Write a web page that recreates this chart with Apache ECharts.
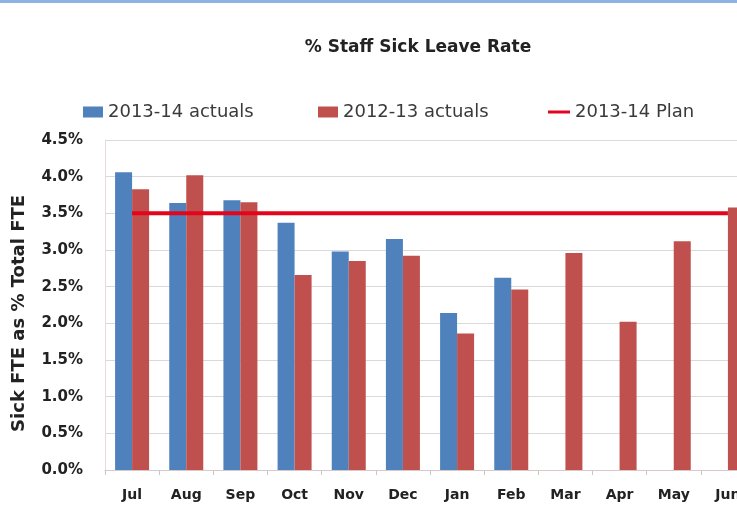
<!DOCTYPE html>
<html>
<head>
<meta charset="utf-8">
<script src="https://cdn.jsdelivr.net/npm/echarts@6/dist/echarts.min.js"></script>
<style>
  html, body { margin: 0; padding: 0; background: #ffffff; overflow: hidden; width: 737px; height: 507px; }
  #topband { position: absolute; left: 0; top: 0; width: 737px; height: 3px; background: #8db3e2; z-index: 2; }
  #chart { position: absolute; left: 0; top: 0; width: 760px; height: 507px; }
</style>
</head>
<body>
<div id="topband"></div>
<div id="chart"></div>
<script>
// Monthly staff sick leave rate (% of total FTE)
const months = ['Jul', 'Aug', 'Sep', 'Oct', 'Nov', 'Dec', 'Jan', 'Feb', 'Mar', 'Apr', 'May', 'Jun'];
const actuals1314 = [4.06, 3.64, 3.68, 3.37, 2.98, 3.15, 2.14, 2.62, null, null, null, null];
const actuals1213 = [3.83, 4.02, 3.65, 2.66, 2.85, 2.92, 1.86, 2.46, 2.96, 2.02, 3.12, 3.58];
const plan1314 = [3.5, 3.5, 3.5, 3.5, 3.5, 3.5, 3.5, 3.5, 3.5, 3.5, 3.5, 3.5];
const yTicks = [0, 0.5, 1.0, 1.5, 2.0, 2.5, 3.0, 3.5, 4.0, 4.5];

const FONT = '"DejaVu Sans", sans-serif';
const BLUE = '#4f81bd';
const RED = '#c0504d';
const PLAN = '#e3051b';

const chart = echarts.init(document.getElementById('chart'));
const legendText = { fontFamily: FONT, fontSize: 18, color: '#3a3a3a' };

chart.setOption({
  animation: false,
  title: {
    text: '% Staff Sick Leave Rate',
    left: 413, top: 34, textAlign: 'center',
    textStyle: { fontFamily: FONT, fontSize: 17, fontWeight: 'bold', color: '#222222' }
  },
  legend: [
    { data: ['2013-14 actuals'], left: 83, top: 103, padding: 0, icon: 'rect', itemWidth: 20, itemHeight: 11, itemGap: 2, textStyle: legendText },
    { data: ['2012-13 actuals'], left: 318, top: 103, padding: 0, icon: 'rect', itemWidth: 20, itemHeight: 11, itemGap: 2, textStyle: legendText },
    { data: ['2013-14 Plan'], left: 548, top: 103, padding: 0, icon: 'rect', itemWidth: 22, itemHeight: 3, itemGap: 2, textStyle: legendText }
  ],
  graphic: [{
    type: 'text', left: 10, top: 195, rotation: Math.PI / 2,
    style: { text: 'Sick FTE as % Total FTE', fontFamily: FONT, fontSize: 18, fontWeight: 'bold', fill: '#222222' }
  }],
  grid: { left: 105, right: 5, top: 140, height: 330, containLabel: false },
  xAxis: {
    type: 'category',
    data: months,
    axisLine: { lineStyle: { color: '#d8c8c8' } },
    axisTick: { show: true, lineStyle: { color: '#c8c8c8' }, length: 5 },
    axisLabel: { fontFamily: FONT, fontSize: 14, fontWeight: 'bold', color: '#222222', margin: 18 }
  },
  yAxis: {
    type: 'value',
    min: 0, max: 4.5, interval: 0.5,
    axisLine: { show: true, lineStyle: { color: '#f0d8d8' } },
    axisTick: { show: false },
    splitLine: { lineStyle: { color: '#d9d9d9' } },
    axisLabel: {
      fontFamily: FONT, fontSize: 15, fontWeight: 'bold', color: '#222222', margin: 22,
      formatter: v => yTicks.includes(v) ? v.toFixed(1) + '%' : ''
    }
  },
  series: [
    { name: '2013-14 actuals', type: 'bar', data: actuals1314, barWidth: 17, barGap: '0%', itemStyle: { color: BLUE } },
    { name: '2012-13 actuals', type: 'bar', data: actuals1213, barWidth: 17, barGap: '0%', itemStyle: { color: RED } },
    { name: '2013-14 Plan', type: 'line', data: plan1314, symbol: 'none', lineStyle: { color: PLAN, width: 4 }, itemStyle: { color: PLAN } }
  ]
});
</script>
</body>
</html>
